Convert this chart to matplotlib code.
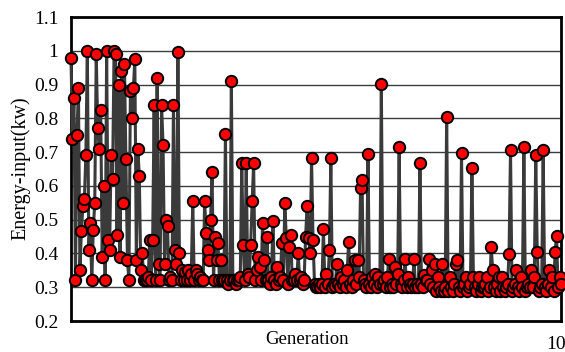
import numpy as np
import matplotlib
matplotlib.use("Agg")
import matplotlib.pyplot as plt

# Energy input per evaluated individual, in order of evaluation
energy = [
    0.98, 0.74, 0.86, 0.32, 0.75, 0.89, 0.35, 0.465, 0.54, 0.56,
    0.69, 1.00, 0.41, 0.49, 0.32, 0.47, 0.55, 0.99, 0.77, 0.71,
    0.825, 0.39, 0.60, 0.32, 1.00, 0.44, 0.41, 0.69, 0.62, 1.00,
    0.99, 0.455, 0.90, 0.39, 0.94, 0.55, 0.96, 0.68, 0.38, 0.32,
    0.88, 0.80, 0.89, 0.975, 0.38, 0.71, 0.63, 0.35, 0.40, 0.32,
    0.32, 0.32, 0.33, 0.44, 0.32, 0.44, 0.84, 0.32, 0.92, 0.37,
    0.32, 0.84, 0.72, 0.37, 0.50, 0.48, 0.32, 0.33, 0.32, 0.84,
    0.41, 0.37, 0.995, 0.40, 0.32, 0.35, 0.32, 0.345, 0.32, 0.35,
    0.32, 0.34, 0.556, 0.32, 0.35, 0.34, 0.32, 0.33, 0.32, 0.32,
    0.556, 0.46, 0.41, 0.38, 0.50, 0.64, 0.32, 0.45, 0.38, 0.43,
    0.32, 0.38, 0.32, 0.32, 0.754, 0.32, 0.31, 0.32, 0.912, 0.32,
    0.32, 0.31, 0.32, 0.32, 0.33, 0.667, 0.425, 0.32, 0.667, 0.34,
    0.33, 0.425, 0.556, 0.667, 0.32, 0.35, 0.39, 0.36, 0.32, 0.49,
    0.38, 0.32, 0.45, 0.32, 0.31, 0.33, 0.497, 0.32, 0.31, 0.36,
    0.32, 0.33, 0.43, 0.32, 0.549, 0.445, 0.31, 0.42, 0.456, 0.32,
    0.32, 0.34, 0.32, 0.40, 0.32, 0.33, 0.31, 0.32, 0.45, 0.541,
    0.445, 0.40, 0.682, 0.44, 0.31, 0.30, 0.305, 0.31, 0.30, 0.31,
    0.473, 0.30, 0.34, 0.31, 0.41, 0.682, 0.30, 0.31, 0.305, 0.37,
    0.31, 0.30, 0.33, 0.31, 0.32, 0.30, 0.35, 0.433, 0.31, 0.30,
    0.32, 0.38, 0.31, 0.38, 0.33, 0.594, 0.617, 0.32, 0.31, 0.30,
    0.694, 0.31, 0.30, 0.33, 0.31, 0.34, 0.30, 0.33, 0.31, 0.902,
    0.31, 0.32, 0.30, 0.33, 0.384, 0.30, 0.31, 0.30, 0.36, 0.31,
    0.34, 0.714, 0.31, 0.30, 0.32, 0.384, 0.30, 0.33, 0.31, 0.30,
    0.31, 0.384, 0.30, 0.31, 0.30, 0.667, 0.31, 0.30, 0.335, 0.32,
    0.32, 0.384, 0.31, 0.35, 0.30, 0.37, 0.29, 0.33, 0.30, 0.29,
    0.37, 0.29, 0.30, 0.805, 0.29, 0.33, 0.30, 0.29, 0.31, 0.37,
    0.38, 0.30, 0.29, 0.697, 0.30, 0.31, 0.33, 0.29, 0.30, 0.31,
    0.654, 0.33, 0.30, 0.29, 0.31, 0.33, 0.29, 0.30, 0.30, 0.31,
    0.33, 0.29, 0.30, 0.42, 0.35, 0.30, 0.29, 0.31, 0.33, 0.29,
    0.33, 0.30, 0.29, 0.30, 0.31, 0.399, 0.705, 0.29, 0.30, 0.31,
    0.35, 0.30, 0.29, 0.33, 0.30, 0.716, 0.29, 0.30, 0.31, 0.30,
    0.35, 0.30, 0.33, 0.69, 0.405, 0.29, 0.30, 0.31, 0.705, 0.30,
    0.29, 0.31, 0.35, 0.30, 0.33, 0.29, 0.404, 0.453, 0.30, 0.33, 0.31,
]

y_ticks = [0.2, 0.3, 0.4, 0.5, 0.6, 0.7, 0.8, 0.9, 1.0, 1.1]
y_tick_labels = ["0.2", "0.3", "0.4", "0.5", "0.6", "0.7", "0.8", "0.9", "1", "1.1"]
x_max = 100
x_ticks = [100]
x_tick_labels = ["100"]

plt.rcParams["font.family"] = ["Liberation Serif", "DejaVu Serif"]

fig = plt.figure(figsize=(5.65, 3.52), dpi=100)
ax = fig.add_axes([71 / 565, 1 - 321 / 352, 490 / 565, 304 / 352])

gen = np.linspace(0, x_max, len(energy))
ax.plot(gen, energy, color="#3a3a3a", lw=2.2, marker="o", ms=8.2,
        mfc="#ff0000", mec="black", mew=1.4, clip_on=False, zorder=3)

ax.set_xlim(0, x_max)
ax.set_ylim(0.2, 1.1)
ax.set_yticks(y_ticks)
ax.set_yticklabels(y_tick_labels)
ax.set_xticks(x_ticks)
ax.set_xticklabels(x_tick_labels)
ax.tick_params(axis="y", length=0, pad=9, labelsize=14)
ax.tick_params(axis="x", length=0, pad=11, labelsize=14)
ax.yaxis.grid(True, color="#3c3c3c", lw=1.0, zorder=1)
ax.set_axisbelow(True)
for s in ax.spines.values():
    s.set_linewidth(2.0)
    s.set_color("black")

ax.set_xlabel("Generation", fontsize=13.5, labelpad=0)
ax.xaxis.set_label_coords((307 - 71) / 490, -(340 - 321) / 304, transform=ax.transAxes)
ax.xaxis.label.set_va("center")
fig.text(21 / 565, 1 - 168 / 352, "Energy-input(kw)", rotation=90,
         ha="center", va="center", fontsize=14.5)

fig.savefig("out.png", dpi=100)
